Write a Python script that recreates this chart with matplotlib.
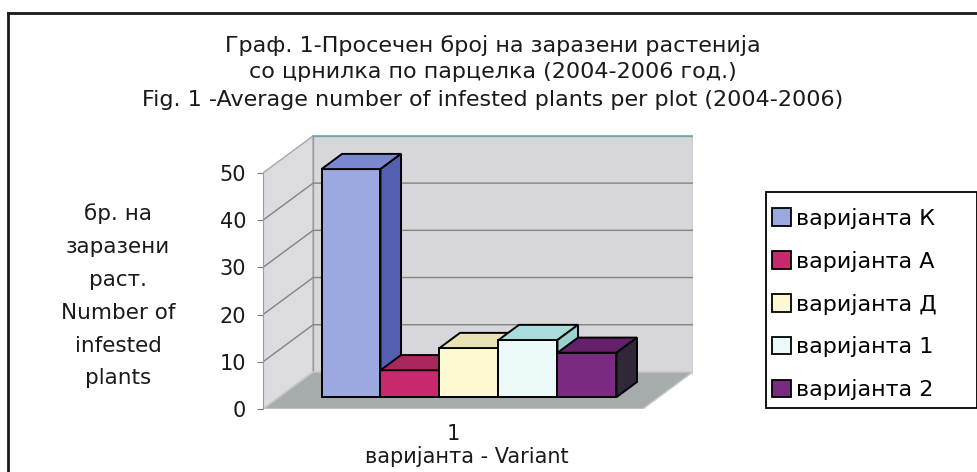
import matplotlib
matplotlib.use("Agg")
import matplotlib.pyplot as plt
from matplotlib.patches import Polygon, Patch, Rectangle
from matplotlib.lines import Line2D

plt.rcParams["font.family"] = ["DejaVu Sans"]

# data
title_lines = [
    "Граф. 1-Просечен број на заразени растенија",
    "со црнилка по парцелка (2004-2006 год.)",
    "Fig. 1 -Average number of infested plants per plot (2004-2006)",
]
ylabel_text = "бр. на\nзаразени\nраст.\nNumber of\ninfested\nplants"
xlabel_text = "варијанта - Variant"
category = ["1"]
variants = ["варијанта К", "варијанта А", "варијанта Д", "варијанта 1", "варијанта 2"]
values = [48.3, 5.7, 10.4, 12.1, 9.4]
y_ticks = [0, 10, 20, 30, 40, 50]

front_colors = ["#9ca8e0", "#c8286e", "#fdf9d2", "#ecf9f9", "#7b2a82"]
top_colors = ["#7a88d2", "#a8285e", "#e9e2b4", "#a9dcdc", "#64206a"]
side_colors = ["#5560b0", "#8a1e4c", "#d8d0a0", "#9ccfd0", "#302838"]

# fake 3d geometry (data units)
DX, DY = 0.85, 7.84        # full depth offset of the walls
F0, F1 = 0.32, 0.73        # front/back depth of the bars
X0, X1, TOP = -0.72, 5.72, 50

fig = plt.figure(figsize=(9.78, 4.72), dpi=100)
ax = fig.add_axes([263 / 978, 63 / 472, 430 / 978, 275 / 472])
ax.set_xlim(X0, X1 + DX)
ax.set_ylim(0, TOP + DY + 0.4)
ax.patch.set_visible(False)

# walls and floor
ax.add_patch(Polygon([(X0, 0), (X0, TOP), (X0 + DX, TOP + DY), (X0 + DX, DY)],
                     facecolor="#dcdce0", edgecolor="#a8a8a8", lw=1, zorder=1))
ax.add_patch(Polygon([(X0 + DX, DY), (X1 + DX, DY), (X1 + DX, TOP + DY), (X0 + DX, TOP + DY)],
                     facecolor="#d7d7db", edgecolor="#9a9a9a", lw=1, zorder=1))
ax.add_patch(Polygon([(X0, 0), (X1, 0), (X1 + DX, DY), (X0 + DX, DY)],
                     facecolor="#a6acac", edgecolor="#c8cccc", lw=1, zorder=1))
for v in y_ticks[1:-1]:
    ax.plot([X0, X0 + DX, X1 + DX], [v, v + DY, v + DY], color="#828282", lw=1, zorder=2)
ax.plot([X0 + DX, X1 + DX], [TOP + DY] * 2, color="#6aaeb0", lw=1.2, zorder=2)

# bars, left to right so later bars hide the side faces
fd = F1 - F0
for i, h in enumerate(values):
    x = i + F0 * DX
    y = F0 * DY
    z = 3 + i
    ax.add_patch(Polygon([(x, y), (x + 1, y), (x + 1, y + h), (x, y + h)],
                         facecolor=front_colors[i], edgecolor="black", lw=1.4, zorder=z))
    ax.add_patch(Polygon([(x, y + h), (x + 1, y + h), (x + 1 + fd * DX, y + h + fd * DY),
                          (x + fd * DX, y + h + fd * DY)],
                         facecolor=top_colors[i], edgecolor="black", lw=1.4, zorder=z))
    ax.add_patch(Polygon([(x + 1, y), (x + 1 + fd * DX, y + fd * DY),
                          (x + 1 + fd * DX, y + h + fd * DY), (x + 1, y + h)],
                         facecolor=side_colors[i], edgecolor="black", lw=1.4, zorder=z))

# axes
for s in ["top", "right", "bottom"]:
    ax.spines[s].set_visible(False)
ax.spines["left"].set_bounds(0, TOP)
ax.spines["left"].set_color("#8fa0a0")
ax.set_yticks(y_ticks)
ax.tick_params(axis="y", length=4, color="#777777", labelsize=15, pad=8, labelcolor="#1a1a1a")
ax.set_xticks([(X0 + X1) / 2])
ax.set_xticklabels(category)
ax.tick_params(axis="x", length=0, labelsize=15, pad=11, labelcolor="#1a1a1a")
ax.set_xlabel(xlabel_text, fontsize=15, labelpad=0, color="#1a1a1a")
ax.xaxis.set_label_coords(0.474, -0.135)

fig.text(118 / 978, 1 - 296 / 472, ylabel_text, ha="center", va="center",
         fontsize=15.5, linespacing=1.8, color="#1a1a1a")

for k, line in enumerate(title_lines):
    fig.text(493 / 978, 1 - (45 + 27.5 * k) / 472, line, ha="center", va="center",
             fontsize=16, color="#1a1a1a")

# legend: box drawn separately so its padding matches
fig.add_artist(Rectangle((766 / 978, 1 - 408 / 472), 211 / 978, 216 / 472,
                         transform=fig.transFigure, facecolor="white",
                         edgecolor="black", lw=1.3))
handles = [Patch(facecolor=c, edgecolor="black", lw=1.3, label=l)
           for c, l in zip(front_colors, variants)]
fig.legend(handles=handles, loc="upper left", bbox_to_anchor=(772 / 978, 1 - 208 / 472),
           frameon=False, fontsize=16, handlelength=0.85, handleheight=0.85,
           handletextpad=0.25, labelspacing=0.98, borderpad=0, borderaxespad=0)

# outer frame (cut at right and bottom)
fig.add_artist(Line2D([8 / 978, 8 / 978], [0, 1 - 13 / 472], transform=fig.transFigure,
                      color="#1a1a1a", lw=2))
fig.add_artist(Line2D([8 / 978, 1], [1 - 13 / 472] * 2, transform=fig.transFigure,
                      color="#1a1a1a", lw=2))

fig.savefig("out.png", dpi=100)
